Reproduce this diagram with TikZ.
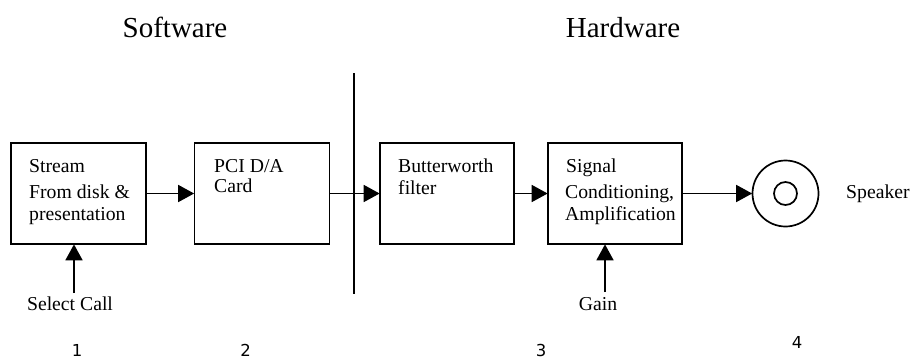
\documentclass[tikz,border=0pt]{standalone}
\usepackage{fontspec}
\setmainfont{Liberation Serif}
\newfontfamily\numfont{DejaVu Sans}
\usetikzlibrary{arrows.meta}
\tikzset{
  blockbox/.style={draw, line width=1.7pt, minimum width=135pt, minimum height=101pt, inner sep=0pt},
  blocktext/.style={font=\fontsize{19.7}{22}\selectfont, align=left, anchor=base west, inner sep=0pt},
  flow/.style={line width=1.7pt, -{Triangle[length=16pt,width=17pt]}, shorten >=-0.5pt},
  numlabel/.style={font=\numfont\fontsize{16.5}{18}\selectfont, inner sep=0pt},
  headlabel/.style={font=\fontsize{29}{32}\selectfont, anchor=base, inner sep=0pt}
}
\begin{document}
\begin{tikzpicture}[x=1pt,y=-1pt]
  \useasboundingbox (0,0) rectangle (912,359);
  % Titles
  \node[headlabel] (soft) at (175,37) {Software};
  \node[headlabel] (hard) at (623,37) {Hardware};
  % Blocks
  \node[blockbox] (stream) at (78.5,193.5) {};
  \node[blockbox] (pci) at (262,193.5) {};
  \node[blockbox, minimum width=134pt] (butter) at (447,193.5) {};
  \node[blockbox, minimum width=134pt] (signal) at (615,193.5) {};
  % Speaker
  \node[draw, circle, line width=1.7pt, minimum size=66pt, inner sep=0pt] (spk) at (785.5,193.5) {};
  \node[draw, circle, line width=1.7pt, minimum size=23pt, inner sep=0pt] (cone) at (785.5,193.5) {};
  % Divider
  \coordinate (divtop) at (354,73);
  \coordinate (divbot) at (354,294);
  \draw[line width=1.7pt] (divtop) -- (divbot);
  % Block texts
  \node[blocktext] (t1) at (29,172) {Stream};
  \node[blocktext] (t1b) at (29,220) {From disk \&\\presentation};
  \node[blocktext, font=\fontsize{19.7}{20}\selectfont] (t2) at (214,192) {PCI D/A\\Card};
  \node[blocktext] (t3) at (398,194) {Butterworth\\filter};
  \node[blocktext] (t4) at (566,172) {Signal};
  \node[blocktext] (t4b) at (565,220) {Conditioning,\\Amplification};
  \node[blocktext] (spkname) at (846,198) {Speaker};
  % Inputs
  \node[blocktext, anchor=base] (call) at (70,310) {Select Call};
  \node[blocktext, anchor=base] (gain) at (598,310) {Gain};
  \coordinate (callin) at (74,293);
  \coordinate (gainin) at (605,292);
  % Flow
  \draw[flow] (stream) -- (pci);
  \draw[flow] (pci) -- (butter);
  \draw[flow] (butter) -- (signal);
  \draw[flow] (signal) -- (spk);
  \draw[flow] (callin) -- (callin |- stream.south);
  \draw[flow] (gainin) -- (gainin |- signal.south);
  % Numbers
  \node[numlabel] (n1) at (77,350) {1};
  \node[numlabel] (n2) at (245.5,350) {2};
  \node[numlabel] (n3) at (541,350) {3};
  \node[numlabel] (n4) at (797,342) {4};
\end{tikzpicture}
\end{document}
